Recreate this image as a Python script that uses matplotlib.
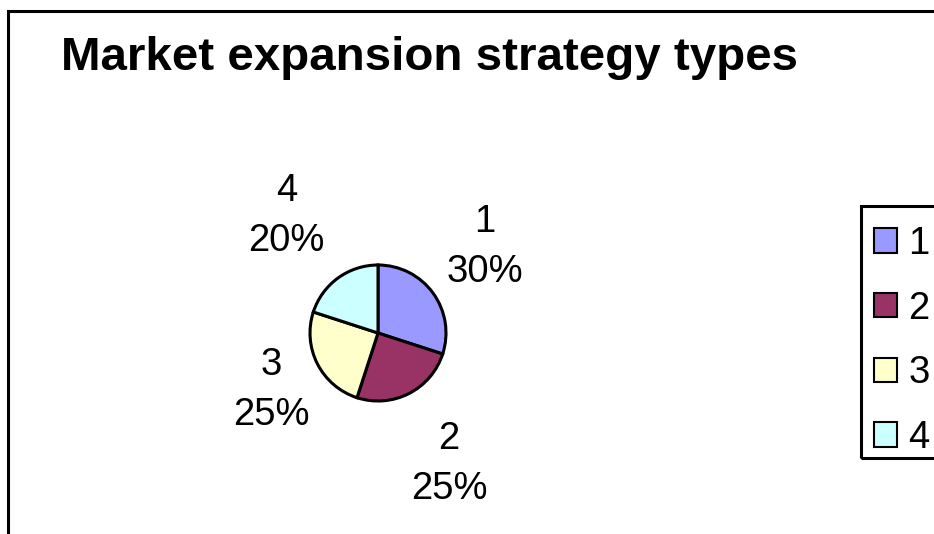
import numpy as np
import matplotlib
matplotlib.use("Agg")
import matplotlib.pyplot as plt
from matplotlib.patches import Rectangle, Patch

title = "Market expansion strategy types"
categories = ["1", "2", "3", "4"]
values = [30, 25, 25, 20]
colors = ["#9999FF", "#993366", "#FFFFCC", "#CCFFFF"]
label_dist = [2.02, 2.19, 1.78, 2.18]
label_rot = [3.0, 1.5, 1.0, 2.0]

W, H = 934, 534
fig = plt.figure(figsize=(W / 100, H / 100), dpi=100)
fig.patch.set_facecolor("white")
ax = fig.add_axes([0, 0, 1, 1])

font = "Liberation Sans"

cx, cy, r = 378, H - 333, 68
wedges, _ = ax.pie(values, colors=colors, startangle=90, counterclock=False,
                   center=(cx, cy), radius=r, frame=True,
                   wedgeprops=dict(edgecolor="black", linewidth=2.2))
ax.set_xlim(0, W)
ax.set_ylim(0, H)
ax.set_aspect("equal")
ax.axis("off")

# outer chart border (bottom and right run off the image)
ax.add_patch(Rectangle((7.5, -20), W + 40, H - 10.5 + 20, fill=False,
                       edgecolor="black", linewidth=2.2, zorder=1))

ax.text(61, H - 70, title, fontsize=34.2, fontweight="bold", family=font,
        ha="left", va="baseline")

total = sum(values)
start = 90.0
for cat, v, d, rot in zip(categories, values, label_dist, label_rot):
    sweep = 360.0 * v / total
    mid = np.deg2rad(start - sweep / 2 + rot)
    start -= sweep
    x = cx + d * r * np.cos(mid)
    y = cy + d * r * np.sin(mid)
    ax.text(x, y, f"{cat}\n{round(100 * v / total)}%", fontsize=27.5,
            family=font, ha="center", va="center", linespacing=1.5)

# legend frame (runs off the right edge)
ax.add_patch(Rectangle((861, H - 458), 120, 252, fill=False,
                       edgecolor="black", linewidth=2.2, zorder=1))

handles = [Patch(facecolor=c, edgecolor="black", linewidth=1.5) for c in colors]
leg = fig.legend(handles, categories, loc="upper left",
                 bbox_to_anchor=(874 / W, 1 - 226 / H),
                 prop=dict(family=font, size=27.5), frameon=False,
                 borderpad=0, labelspacing=0.75,
                 handlelength=0.6, handleheight=0.6,
                 handletextpad=0.3, borderaxespad=0)

fig.savefig("out.png", dpi=100)
